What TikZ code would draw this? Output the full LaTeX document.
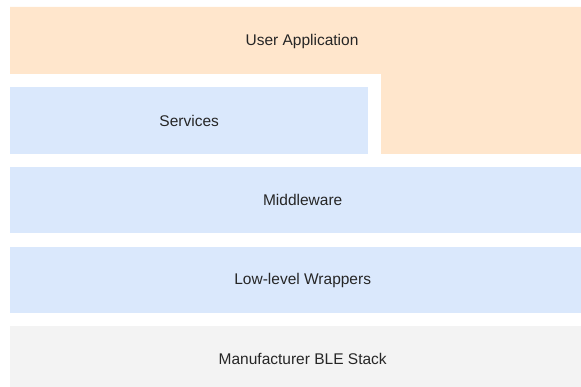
\documentclass[tikz,border=0pt]{standalone}
\usepackage{fontspec}
\setmainfont{Liberation Sans}
\definecolor{appfill}{HTML}{FFE6CC}
\definecolor{layerfill}{HTML}{DAE8FC}
\definecolor{stackfill}{HTML}{F3F3F3}
\begin{document}
\begin{tikzpicture}[x=1pt,y=-1pt,
		layerbox/.style={draw=none,inner sep=0pt,anchor=north west,minimum height=66pt,
			font=\fontsize{15.5}{18}\selectfont,text=black!85},
		txt/.style={font=\fontsize{15.5}{18}\selectfont,text=black!85}]
				\useasboundingbox (0,0) rectangle (581,387);
				\clip (0,0) rectangle (581,387);
				% user application wraps round the services
				\fill[appfill] (10,7) -- (595,7) -- (595,154) -- (381,154) -- (381,74) -- (10,74) -- cycle;
				\node[txt] (app) at (302,41) {User Application};
				\node[layerbox,fill=layerfill,minimum width=358pt,minimum height=67pt] (services) at (10,87) {Services};
				\node[layerbox,fill=layerfill,minimum width=585pt] (middleware) at (10,167) {Middleware};
				\node[layerbox,fill=layerfill,minimum width=585pt] (wrappers) at (10,247) {Low-level Wrappers};
				\node[layerbox,fill=stackfill,minimum width=585pt] (stack) at (10,326) {Manufacturer BLE Stack};
			\end{tikzpicture}
\end{document}
